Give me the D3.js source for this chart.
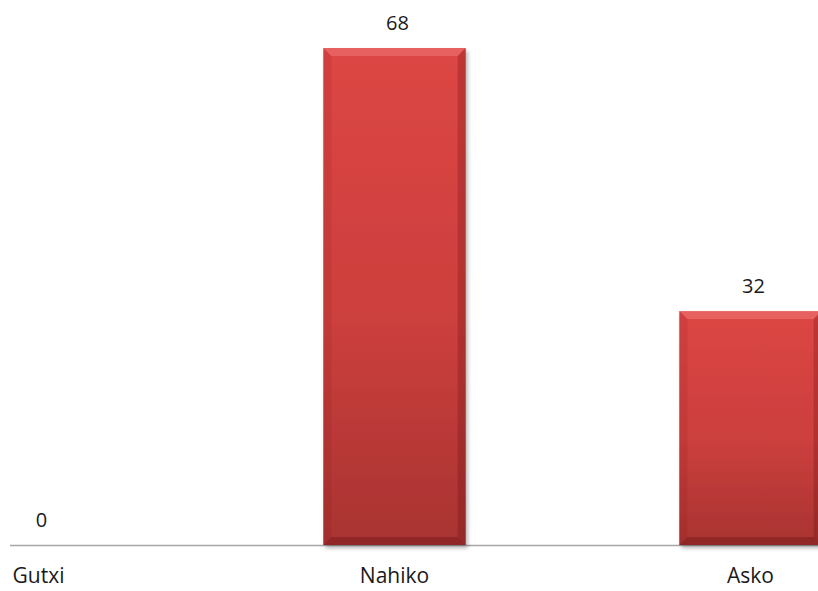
<!DOCTYPE html>
<html lang="eu">
<head>
<meta charset="utf-8">
<style>
  html, body { margin: 0; padding: 0; background: #fff; overflow: hidden; }
  text { font-family: "Open Sans", "DejaVu Sans", sans-serif; fill: #1a1a1a; }
</style>
</head>
<body>
<div id="chart"></div>
<script src="https://cdnjs.cloudflare.com/ajax/libs/d3/7.8.5/d3.min.js"></script>
<script>
const categories = ["Gutxi", "Nahiko", "Asko"];
const values = [0, 68, 32];

const width = 818;
const height = 591;
const baseY = 545;
const bevel = 8;

const svg = d3.select("#chart")
  .append("svg")
  .attr("width", width)
  .attr("height", height);

const defs = svg.append("defs");

// main bar gradient, light at the top, darker toward the base
const grad = defs.append("linearGradient")
  .attr("id", "barFill")
  .attr("x1", 0).attr("y1", 0).attr("x2", 0).attr("y2", 1);
grad.append("stop").attr("offset", "0%").attr("stop-color", "#dc4644");
grad.append("stop").attr("offset", "55%").attr("stop-color", "#cc3f3d");
grad.append("stop").attr("offset", "100%").attr("stop-color", "#a83331");

const shadow = defs.append("filter")
  .attr("id", "shadow")
  .attr("x", "-10%").attr("y", "-10%").attr("width", "130%").attr("height", "130%");
shadow.append("feGaussianBlur").attr("in", "SourceAlpha").attr("stdDeviation", 2);
shadow.append("feOffset").attr("dx", 2).attr("dy", 3).attr("result", "off");
shadow.append("feComponentTransfer").append("feFuncA").attr("type", "linear").attr("slope", 0.3);
const merge = shadow.append("feMerge");
merge.append("feMergeNode");
merge.append("feMergeNode").attr("in", "SourceGraphic");

const x = d3.scaleBand()
  .domain(categories)
  .range([-139.5, 928.5])
  .paddingInner(0.6)
  .paddingOuter(0.3);

const y = d3.scaleLinear()
  .domain([0, 68])
  .range([baseY, 48]);

// baseline
svg.append("line")
  .attr("x1", 10).attr("x2", width)
  .attr("y1", baseY + 0.5).attr("y2", baseY + 0.5)
  .attr("stroke", "#a6a6a6")
  .attr("stroke-width", 1.5);

const bars = svg.selectAll("g.bar")
  .data(values.map((v, i) => ({ cat: categories[i], v })))
  .enter()
  .append("g")
  .attr("class", "bar");

const barsWithHeight = bars.filter(d => d.v > 0);

barsWithHeight.append("rect")
  .attr("x", d => x(d.cat))
  .attr("y", d => y(d.v))
  .attr("width", x.bandwidth())
  .attr("height", d => y(0) - y(d.v))
  .attr("fill", "url(#barFill)")
  .attr("filter", "url(#shadow)");

// bevel edges
function edge(d, side) {
  const x0 = x(d.cat), x1 = x0 + x.bandwidth();
  const y0 = y(d.v), y1 = y(0);
  const b = bevel;
  if (side === "top") return [[x0, y0], [x1, y0], [x1 - b, y0 + b], [x0 + b, y0 + b]];
  if (side === "left") return [[x0, y0], [x0 + b, y0 + b], [x0 + b, y1 - b], [x0, y1]];
  if (side === "right") return [[x1, y0], [x1 - b, y0 + b], [x1 - b, y1 - b], [x1, y1]];
  return [[x0, y1], [x0 + b, y1 - b], [x1 - b, y1 - b], [x1, y1]];
}
const edgeFill = { top: "rgba(255,160,155,0.3)", left: "rgba(120,20,20,0.12)", right: "rgba(90,10,10,0.25)", bottom: "rgba(70,5,5,0.25)" };

["top", "left", "right", "bottom"].forEach(side => {
  barsWithHeight.append("polygon")
    .attr("points", d => edge(d, side).map(p => p.join(",")).join(" "))
    .attr("fill", edgeFill[side]);
});

// value labels
bars.append("text")
  .attr("x", d => x(d.cat) + x.bandwidth() / 2 + 3)
  .attr("y", d => y(d.v) - 18)
  .attr("text-anchor", "middle")
  .attr("font-size", 20)
  .text(d => d.v);

// category labels
svg.append("g")
  .selectAll("text")
  .data(categories)
  .enter()
  .append("text")
  .attr("x", d => x(d) + x.bandwidth() / 2)
  .attr("y", 583)
  .attr("text-anchor", "middle")
  .attr("font-size", 21)
  .text(d => d);
</script>
</body>
</html>
